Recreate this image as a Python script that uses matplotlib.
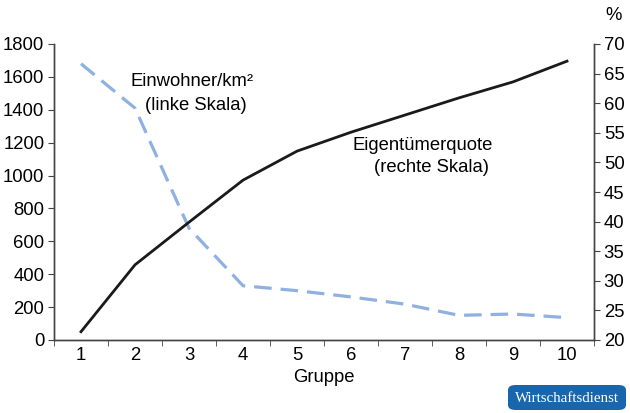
import matplotlib
matplotlib.use("Agg")
import matplotlib.pyplot as plt
from matplotlib.patches import FancyBboxPatch
import numpy as np

plt.rcParams["font.family"] = ["Liberation Sans", "DejaVu Sans"]
plt.rcParams["font.size"] = 13.3

gruppe = [1, 2, 3, 4, 5, 6, 7, 8, 9, 10]
einwohner = [1680, 1410, 680, 330, 300, 262, 218, 150, 158, 136]   # links
eigentuemer = [21.4, 32.7, 39.9, 47.0, 51.9, 55.1, 58.0, 60.9, 63.6, 67.1]  # rechts, %

fig = plt.figure(figsize=(6.3, 4.13), dpi=100)
ax = fig.add_axes([54/630, 1 - 340/413, 540/630, 296/413])
ax2 = ax.twinx()

ax.plot(gruppe, einwohner, color="#8fb0e0", lw=2.3, dashes=(5.5, 2.8))
ax2.plot(gruppe, eigentuemer, color="#1a1a1a", lw=2.0)

ax.set_xlim(0.5, 10.5)
ax.set_ylim(0, 1800)
ax2.set_ylim(20, 70)
ax.set_yticks(np.arange(0, 1801, 200))
ax2.set_yticks(np.arange(20, 71, 5))

# x-Ticks an den Gruppengrenzen, Beschriftung in der Mitte
ax.set_xticks(gruppe)
ax.set_xticklabels([str(g) for g in gruppe])
ax.tick_params(axis="x", which="major", length=0, pad=5)
ax.set_xticks(np.arange(0.5, 11, 1), minor=True)
ax.tick_params(axis="x", which="minor", length=4, direction="out", color="#444444")
ax.tick_params(axis="y", length=4, pad=3, color="#444444")
ax2.tick_params(axis="y", length=4, pad=3, color="#444444")

for a in (ax, ax2):
    a.spines["top"].set_visible(False)
    for s in ("left", "right", "bottom"):
        a.spines[s].set_color("#444444")
        a.spines[s].set_linewidth(1.0)

ax.set_xlabel("Gruppe", labelpad=4)

# Beschriftungen der Linien (Pixel -> Figurkoordinaten)
def fx(px):
    return px / 630

def fy(py):
    return 1 - py / 413

fig.text(fx(130), fy(82), "Einwohner/km²", ha="left", va="center")
fig.text(fx(145), fy(106), "(linke Skala)", ha="left", va="center")
fig.text(fx(353), fy(145), "Eigentümerquote", ha="left", va="center")
fig.text(fx(374), fy(168), "(rechte Skala)", ha="left", va="center")

fig.text(fx(614), fy(16), "%", ha="center", va="center")

# Logo
box = FancyBboxPatch((fx(508), fy(410)), 118/630, 25/413,
                     boxstyle="round,pad=0,rounding_size=0.012",
                     transform=fig.transFigure, facecolor="#1766ae", edgecolor="none")
fig.patches.append(box)
fig.text(fx(567), fy(398), "Wirtschaftsdienst", ha="center", va="center",
         color="white", fontsize=10.8, family="Liberation Serif")

fig.savefig("out.png", dpi=100)
